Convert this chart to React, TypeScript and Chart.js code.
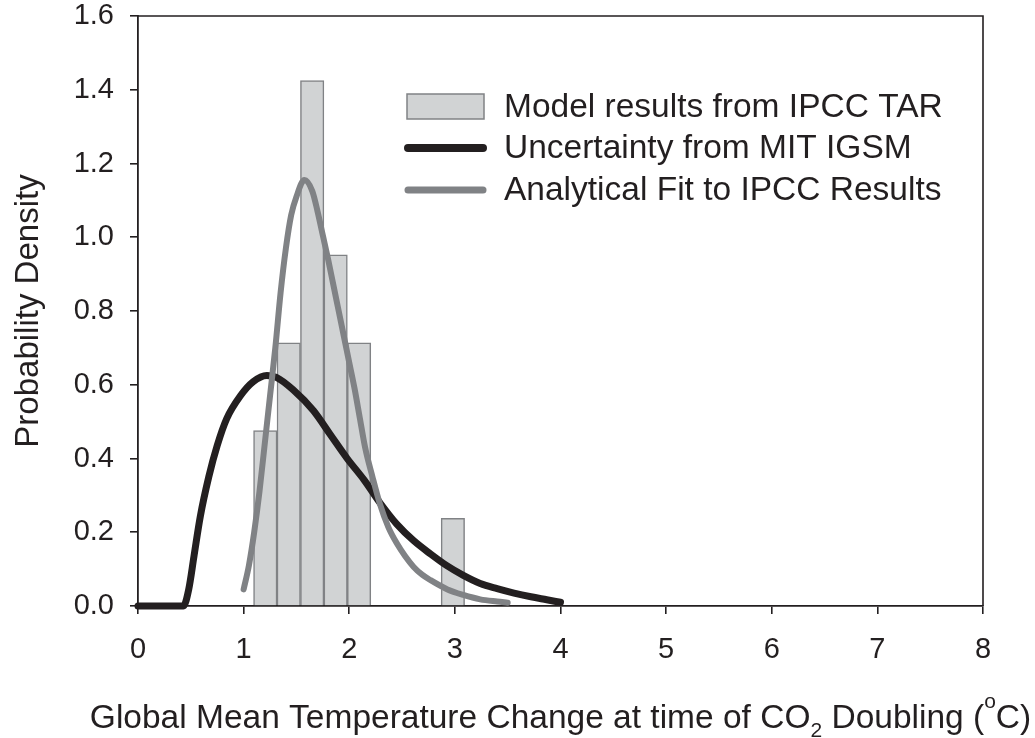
import React, { useEffect, useRef } from 'react';
import { Chart, registerables } from 'chart.js';

Chart.register(...registerables);

const FONT = '"Liberation Sans", Arial, Helvetica, sans-serif';
const INK = '#231f20';

// Histogram of model results (IPCC TAR): bin centres and densities
const binCenters = [1.205, 1.427, 1.649, 1.871, 2.093, 2.981];
const binDensity = [0.476, 0.714, 1.425, 0.952, 0.714, 0.238];

// Uncertainty from MIT IGSM (black curve)
const igsmX = [0, 0.43, 0.48, 0.53, 0.59, 0.67, 0.75, 0.84, 0.97, 1.09, 1.22, 1.31, 1.47, 1.66, 1.82, 1.98, 2.14, 2.29, 2.45, 2.61, 2.77, 2.92, 3.08, 3.24, 3.4, 3.56, 3.72, 3.87, 4.0];
const igsmY = [0, 0, 0.045, 0.135, 0.243, 0.35, 0.435, 0.508, 0.57, 0.608, 0.625, 0.62, 0.586, 0.53, 0.465, 0.4, 0.342, 0.28, 0.222, 0.177, 0.141, 0.11, 0.083, 0.061, 0.047, 0.035, 0.025, 0.017, 0.01];

// Analytical fit to IPCC results (grey curve)
const fitX = [1.0, 1.05, 1.1, 1.15, 1.2, 1.25, 1.3, 1.35, 1.4, 1.45, 1.5, 1.575, 1.65, 1.7, 1.75, 1.8, 1.85, 1.9, 1.95, 2.0, 2.05, 2.1, 2.15, 2.22, 2.29, 2.37, 2.45, 2.53, 2.61, 2.69, 2.77, 2.93, 3.08, 3.24, 3.4, 3.5];
const fitY = [0.045, 0.11, 0.2, 0.31, 0.44, 0.57, 0.7, 0.85, 0.97, 1.06, 1.11, 1.155, 1.125, 1.07, 1.005, 0.94, 0.87, 0.8, 0.73, 0.66, 0.59, 0.51, 0.43, 0.35, 0.277, 0.214, 0.17, 0.135, 0.106, 0.085, 0.07, 0.045, 0.03, 0.018, 0.012, 0.009];

const seriesLabels = ['Model results from IPCC TAR', 'Uncertainty from MIT IGSM', 'Analytical Fit to IPCC Results'];
const yTitle = 'Probability Density';
const xTitleParts = [
  { text: 'Global Mean Temperature Change at time of CO', kind: 'normal' },
  { text: '2', kind: 'sub' },
  { text: ' Doubling (', kind: 'normal' },
  { text: 'o', kind: 'sup' },
  { text: 'C)', kind: 'normal' },
];

const xMin = 0, xMax = 8, xStep = 1;
const yMin = 0, yMax = 1.6, yStep = 0.2;

const framePlugin = {
  id: 'frame',
  afterDraw(chart: any) {
    const { ctx, chartArea } = chart;
    ctx.save();
    ctx.strokeStyle = INK;
    ctx.lineWidth = 1.6;
    ctx.beginPath();
    ctx.moveTo(chartArea.left, chartArea.top);
    ctx.lineTo(chartArea.right, chartArea.top);
    ctx.lineTo(chartArea.right, chartArea.bottom);
    ctx.stroke();
    ctx.restore();
  },
};

const legendPlugin = {
  id: 'customLegend',
  afterDraw(chart: any) {
    const { ctx, chartArea } = chart;
    const x0 = chartArea.left + 269;
    const rows = [90.5, 132, 174];
    const sw = 77;
    ctx.save();
    ctx.font = `33.5px ${FONT}`;
    ctx.textBaseline = 'middle';
    ctx.textAlign = 'left';
    chart.data.datasets.forEach((ds: any, i: number) => {
      const cy = chartArea.top + rows[i];
      if (ds.type === 'bar') {
        ctx.fillStyle = ds.backgroundColor;
        ctx.fillRect(x0, cy - 12.5, sw, 25);
        ctx.strokeStyle = ds.borderColor;
        ctx.lineWidth = 1.5;
        ctx.strokeRect(x0, cy - 12.5, sw, 25);
      } else {
        ctx.strokeStyle = ds.borderColor;
        ctx.lineWidth = ds.borderWidth + 1;
        ctx.lineCap = 'round';
        ctx.beginPath();
        ctx.moveTo(x0 + 1, cy);
        ctx.lineTo(x0 + sw - 1, cy);
        ctx.stroke();
      }
      ctx.fillStyle = INK;
      ctx.fillText(ds.label, x0 + 97, cy + 1);
    });
    ctx.restore();
  },
};

const xTitlePlugin = {
  id: 'xTitle',
  afterDraw(chart: any) {
    const { ctx, chartArea } = chart;
    const baseSize = 33.5;
    const smallSize = 21;
    const baseline = chartArea.bottom + 122;
    const shift: Record<string, number> = { normal: 0, sub: 9, sup: -20 };
    ctx.save();
    ctx.fillStyle = INK;
    ctx.textBaseline = 'alphabetic';
    ctx.textAlign = 'left';
    const widths = xTitleParts.map((p) => {
      ctx.font = `${p.kind === 'normal' ? baseSize : smallSize}px ${FONT}`;
      return ctx.measureText(p.text).width;
    });
    const total = widths.reduce((a, b) => a + b, 0);
    let x = (chartArea.left + chartArea.right) / 2 - total / 2;
    xTitleParts.forEach((p, i) => {
      ctx.font = `${p.kind === 'normal' ? baseSize : smallSize}px ${FONT}`;
      ctx.fillText(p.text, x, baseline + shift[p.kind]);
      x += widths[i];
    });
    ctx.restore();
  },
};

export default function App() {
  const canvasRef = useRef<HTMLCanvasElement | null>(null);

  useEffect(() => {
    const canvas = canvasRef.current;
    if (!canvas) return;
    const chart = new Chart(canvas, {
      type: 'bar',
      data: {
        datasets: [
          {
            type: 'bar',
            label: seriesLabels[0],
            data: binCenters.map((x, i) => ({ x, y: binDensity[i] })),
            backgroundColor: '#d1d3d4',
            borderColor: '#808285',
            borderWidth: 1.5,
            barPercentage: 1,
            categoryPercentage: 1,
            grouped: false,
            order: 2,
          } as any,
          {
            type: 'line',
            label: seriesLabels[1],
            data: igsmX.map((x, i) => ({ x, y: igsmY[i] })),
            borderColor: INK,
            borderWidth: 7,
            pointRadius: 0,
            cubicInterpolationMode: 'monotone',
            borderCapStyle: 'round',
            borderJoinStyle: 'round',
            fill: false,
            clip: false,
            order: 1,
          } as any,
          {
            type: 'line',
            label: seriesLabels[2],
            data: fitX.map((x, i) => ({ x, y: fitY[i] })),
            borderColor: '#808285',
            borderWidth: 6,
            pointRadius: 0,
            cubicInterpolationMode: 'monotone',
            borderCapStyle: 'round',
            borderJoinStyle: 'round',
            fill: false,
            clip: false,
            order: 0,
          } as any,
        ],
      },
      options: {
        responsive: false,
        animation: false,
        events: [],
        layout: { padding: { left: 0, top: 16, right: 52, bottom: 0 } },
        plugins: {
          legend: { display: false },
          tooltip: { enabled: false },
          title: { display: false },
        },
        scales: {
          x: {
            type: 'linear',
            min: xMin,
            max: xMax,
            offset: false,
            ticks: {
              stepSize: xStep,
              color: INK,
              font: { family: FONT, size: 29 },
              padding: 19,
              maxRotation: 0,
              autoSkip: false,
            },
            grid: {
              display: true,
              drawOnChartArea: false,
              drawTicks: true,
              tickLength: 8,
              color: INK,
              lineWidth: 1.6,
              offset: false,
            },
            border: { display: true, color: INK, width: 1.8 },
            afterFit: (s: any) => {
              s.height = 132;
              s.paddingLeft = 0;
              s.paddingRight = 0;
            },
          },
          y: {
            type: 'linear',
            min: yMin,
            max: yMax,
            ticks: {
              stepSize: yStep,
              color: INK,
              font: { family: FONT, size: 29 },
              padding: 16,
              callback: (v: any) => Number(v).toFixed(1),
            },
            grid: {
              display: true,
              drawOnChartArea: false,
              drawTicks: true,
              tickLength: 8,
              color: INK,
              lineWidth: 1.6,
            },
            border: { display: true, color: INK, width: 1.8 },
            title: {
              display: true,
              text: yTitle,
              color: INK,
              font: { family: FONT, size: 33 },
              padding: { top: 9, bottom: 0 },
            },
            afterFit: (s: any) => {
              s.width = 138;
              s.paddingTop = 0;
              s.paddingBottom = 0;
            },
          },
        },
      } as any,
      plugins: [framePlugin, legendPlugin, xTitlePlugin],
    });
    return () => chart.destroy();
  }, []);

  return (
    <div style={{ position: 'absolute', left: 0, top: 0, width: 1035, height: 738, background: '#ffffff' }}>
      <canvas ref={canvasRef} width={1035} height={738} style={{ display: 'block' }} />
    </div>
  );
}
